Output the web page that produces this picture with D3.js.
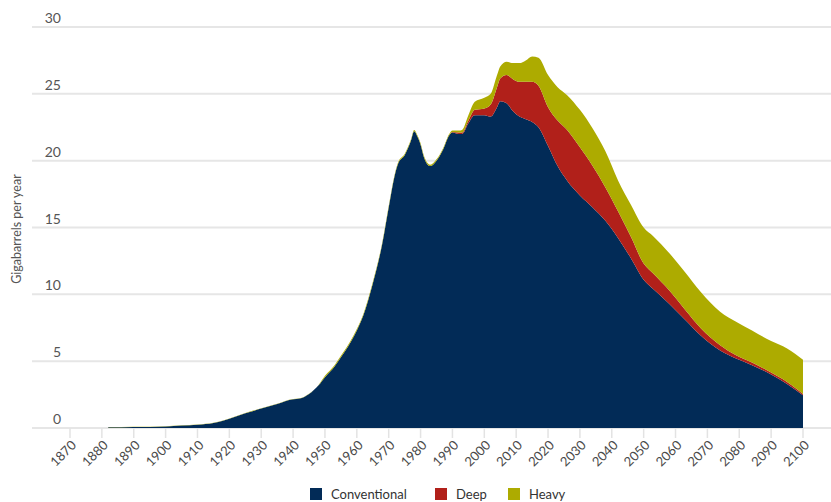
<!DOCTYPE html>
<html>
<head>
<meta charset="utf-8">
<script src="https://cdn.jsdelivr.net/npm/d3@7"></script>
<style>
  body { margin: 0; background: #fff; }
  text { font-family: Lato, "Open Sans", sans-serif; }
</style>
</head>
<body>
<div id="chart"></div>
<script>
// set the dimensions
var width = 831,
    height = 502

// data (gigabarrels per year)
var years = [1882, 1890, 1900, 1905, 1910, 1915, 1918, 1920, 1925, 1930, 1935, 1940, 1942, 1945, 1948,
  1950, 1953, 1955, 1958, 1960, 1962, 1965, 1968, 1970, 1972, 1973, 1975, 1977, 1978, 1979,
  1980, 1981, 1983, 1985, 1987, 1989, 1990, 1992, 1993, 1995, 1997, 2000, 2002, 2004, 2005,
  2007, 2009, 2011, 2013, 2015, 2017, 2020, 2023, 2026, 2030, 2034, 2038, 2042, 2046, 2050,
  2053, 2058, 2063, 2068, 2074, 2079, 2084, 2090, 2095, 2100]

var conventional = [0.05, 0.07, 0.12, 0.18, 0.25, 0.38, 0.55, 0.7, 1.1, 1.45, 1.8, 2.15, 2.2, 2.55, 3.2,
  3.8, 4.6, 5.3, 6.4, 7.3, 8.4, 10.8, 13.8, 16.5, 19.0, 19.8, 20.4, 21.5, 22.2, 21.8,
  21.2, 20.3, 19.6, 20.0, 20.8, 21.9, 22.1, 22.0, 22.0, 22.8, 23.4, 23.4, 23.3, 24.0, 24.45,
  24.3, 23.7, 23.3, 23.1, 22.9, 22.5, 21.1, 19.6, 18.5, 17.4, 16.5, 15.5, 14.2, 12.7, 11.1,
  10.4, 9.3, 8.1, 6.9, 5.8, 5.2, 4.7, 4.0, 3.3, 2.45]

var deep = [0, 0, 0, 0, 0, 0, 0, 0, 0, 0, 0, 0, 0, 0, 0,
  0, 0, 0, 0, 0, 0, 0, 0, 0, 0, 0, 0, 0, 0, 0,
  0, 0, 0, 0, 0, 0, 0.05, 0.1, 0.1, 0.2, 0.4, 0.5, 0.9, 1.5, 1.7,
  2.1, 2.4, 2.6, 2.8, 3.0, 3.1, 2.9, 3.4, 3.8, 3.6, 3.1, 2.5, 2.0, 1.6, 1.2,
  1.15, 1.0, 0.75, 0.55, 0.4, 0.25, 0.2, 0.15, 0.15, 0.1]

var heavy = [0.02, 0.02, 0.02, 0.02, 0.02, 0.02, 0.02, 0.02, 0.02, 0.02, 0.02, 0.02, 0.02, 0.02, 0.02,
  0.1, 0.1, 0.1, 0.1, 0.1, 0.1, 0.1, 0.1, 0.1, 0.1, 0.1, 0.1, 0.1, 0.1, 0.1,
  0.1, 0.1, 0.1, 0.1, 0.1, 0.1, 0.1, 0.15, 0.2, 0.4, 0.6, 0.8, 0.8, 0.9, 0.9,
  1.0, 1.2, 1.4, 1.6, 1.9, 2.1, 2.4, 2.5, 2.6, 2.8, 2.8, 2.7, 2.3, 2.4, 2.7,
  2.8, 2.8, 2.8, 2.7, 2.5, 2.5, 2.4, 2.35, 2.5, 2.55]

var xTicks = d3.range(1870, 2101, 10)
var yTicks = [0, 5, 10, 15, 20, 25, 30]
var keys = ["Conventional", "Deep", "Heavy"]
var colors = ["#022b57", "#b1201a", "#adab00"]

// build the table for the stack
var table = years.map(function(y, i) {
  return {year: y, Conventional: conventional[i], Deep: deep[i], Heavy: heavy[i]}
})

var svg = d3.select("#chart")
  .append("svg")
    .attr("width", width)
    .attr("height", height)

// scales
var x = d3.scaleLinear()
  .domain([1870, 2100])
  .range([70, 803])

var y = d3.scaleLinear()
  .domain([0, 30])
  .range([428, 27])

var color = d3.scaleOrdinal()
  .domain(keys)
  .range(colors)

// gridlines and labels
svg.selectAll("grid")
  .data(yTicks)
  .enter()
  .append("line")
    .attr("x1", 32)
    .attr("x2", width)
    .attr("y1", function(d) { return y(d) })
    .attr("y2", function(d) { return y(d) })
    .attr("stroke", "#e6e6e6")
    .attr("stroke-width", 2)

svg.selectAll("ylabels")
  .data(yTicks)
  .enter()
  .append("text")
    .attr("x", 61)
    .attr("y", function(d) { return y(d) - 4 })
    .attr("text-anchor", "end")
    .attr("fill", "#555")
    .style("font-size", "14px")
    .text(function(d) { return d })

// stacked areas
var stacked = d3.stack().keys(keys)(table)

var area = d3.area()
  .curve(d3.curveMonotoneX)
  .x(function(d) { return x(d.data.year) })
  .y0(function(d) { return y(d[0]) })
  .y1(function(d) { return y(d[1]) })

svg.selectAll("layers")
  .data(stacked)
  .enter()
  .append("path")
    .attr("d", area)
    .attr("fill", function(d) { return color(d.key) })

// x ticks
svg.selectAll("xticks")
  .data(xTicks)
  .enter()
  .append("line")
    .attr("x1", function(d) { return x(d) })
    .attr("x2", function(d) { return x(d) })
    .attr("y1", 428)
    .attr("y2", 438)
    .attr("stroke", "#e3e3e3")
    .attr("stroke-width", 1.5)

svg.selectAll("xlabels")
  .data(xTicks)
  .enter()
  .append("text")
    .attr("transform", function(d) { return "translate(" + (x(d) + 7) + ",446) rotate(-45)" })
    .attr("text-anchor", "end")
    .attr("fill", "#4a4a4a")
    .style("font-size", "13px")
    .text(function(d) { return d })

// y axis title
svg.append("text")
  .attr("transform", "translate(21,229) rotate(-90)")
  .attr("text-anchor", "middle")
  .attr("fill", "#555")
  .style("font-size", "12.5px")
  .text("Gigabarrels per year")

// legend
var legendX = [310, 435, 508]
var legend = svg.selectAll("legend")
  .data(keys)
  .enter()
  .append("g")
    .attr("transform", function(d, i) { return "translate(" + legendX[i] + ",488)" })

legend.append("rect")
  .attr("width", 12)
  .attr("height", 12)
  .attr("fill", function(d) { return color(d) })

legend.append("text")
  .attr("x", 21)
  .attr("y", 11)
  .attr("fill", "#333")
  .style("font-size", "13px")
  .text(function(d) { return d })
</script>
</body>
</html>
